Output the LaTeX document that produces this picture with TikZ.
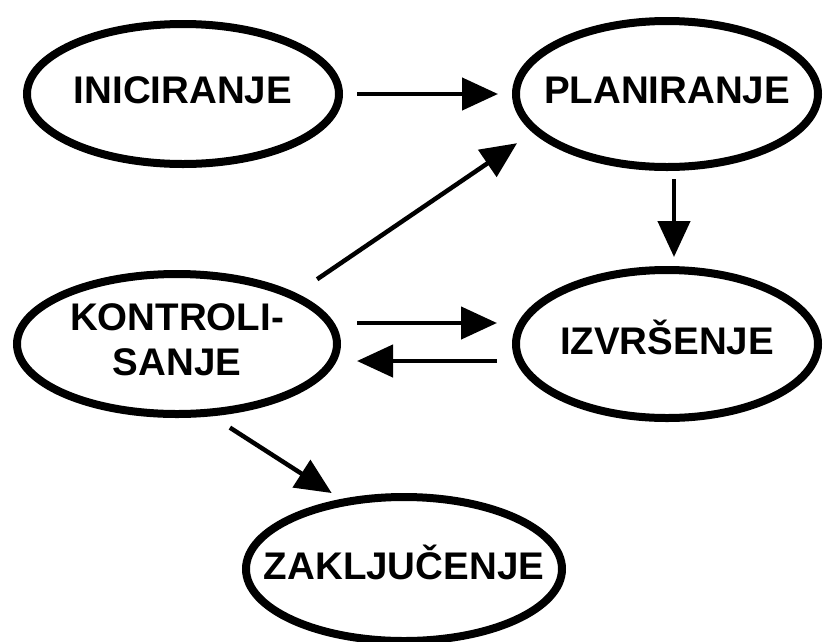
\documentclass[tikz,border=0pt]{standalone}
\usepackage{fontspec}
\setmainfont{Liberation Sans}
\usetikzlibrary{shapes.geometric,arrows.meta,positioning}
\newcommand{\natpis}[1]{\makebox[0pt]{\begin{tabular}{@{}c@{}}#1\end{tabular}}}

\begin{document}
\begin{tikzpicture}[faza/.style={ellipse, draw=black, line width=8pt, minimum width=312pt, minimum height=140pt, inner sep=0pt, font=\fontsize{38.5}{45}\selectfont\bfseries},
 strelica/.style={-{Triangle[length=36pt,width=32pt]}, line width=4.5pt, black}]
 \useasboundingbox (-183pt,94pt) rectangle (641pt,-547pt);

                \node[faza, minimum height=140pt] (ini) {\natpis{INICIRANJE}};
                \node[faza, node distance=484pt, minimum width=302pt, minimum height=146pt] (pla) [right of=ini] {\natpis{PLANIRANJE}};
                \node[faza, node distance=250pt, minimum width=302pt, minimum height=148pt] (izv) [below of=pla] {\natpis{IZVR\v{S}ENJE}};
                \node[faza, node distance=490pt, minimum width=320pt, minimum height=140pt] (kon) [left of=izv] {\natpis{KONTROLI-\\SANJE}};
                \node[faza, node distance=225pt, minimum width=316pt, minimum height=144pt] (zak) [below of=kon, xshift=227pt] {\natpis{ZAKLJU\v{C}ENJE}};

                 \path [strelica] (ini) edge [shorten <=14pt, shorten >=14pt] (pla)
                                  ([xshift=7pt]pla.south) edge [shorten <=8pt, shorten >=9pt] ([xshift=7pt]izv.north)
                                  (kon.23) edge [shorten <=25pt, shorten >=19pt] (pla.196)
                                  ([yshift=21pt]kon.east) edge [shorten <=16pt, shorten >=15pt] ([yshift=21pt]izv.west)
                                  ([yshift=-17pt]izv.west) edge [shorten <=15pt, shorten >=16pt] ([yshift=-17pt]kon.east)
                                  (kon.-64) edge [shorten <=21pt, shorten >=11pt] (zak.132);
\end{tikzpicture}
\end{document}
